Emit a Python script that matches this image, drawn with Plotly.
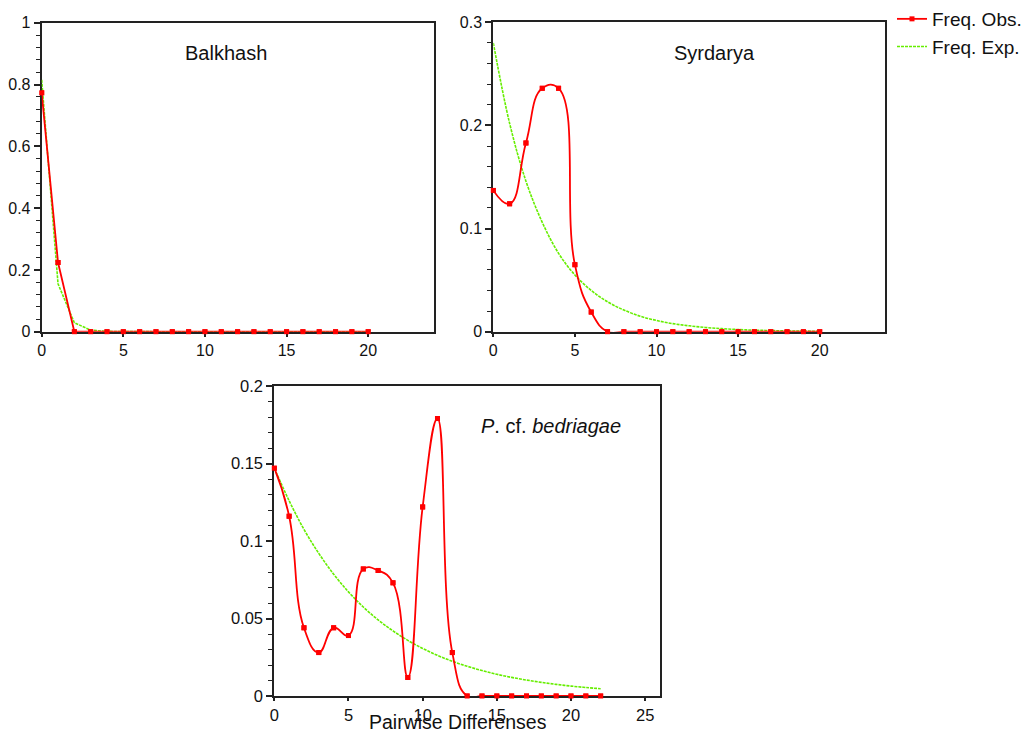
import plotly.graph_objects as go

# page body has an 8px margin; the figure is sized to fit the window
OFF = 8
W, H = 1029 - 2 * OFF, 742 - 2 * OFF

# ---------------- data ----------------
x_top = list(range(0, 21))
x_bot = list(range(0, 23))

balkhash_obs = [0.773, 0.224, 0.0] + [0.0] * 18
balkhash_exp = [0.815, 0.155, 0.029, 0.005, 0.001] + [0.0] * 16

syrdarya_obs = [0.137, 0.124, 0.183, 0.236, 0.236, 0.065, 0.019] + [0.0] * 14
syrdarya_exp = [0.280, 0.202, 0.146, 0.106, 0.076, 0.055, 0.040, 0.029, 0.021,
                0.015, 0.0109, 0.0078, 0.0057, 0.0041, 0.0030, 0.0021, 0.0015,
                0.0011, 0.0008, 0.0006, 0.0004]

bedriagae_obs = [0.147, 0.116, 0.044, 0.028, 0.044, 0.039, 0.082, 0.081, 0.073,
                 0.012, 0.122, 0.179, 0.028] + [0.0] * 10
bedriagae_exp = [0.147, 0.126, 0.1075, 0.092, 0.0786, 0.0672, 0.0574, 0.0491,
                 0.042, 0.0359, 0.0307, 0.0262, 0.0224, 0.0192, 0.0164, 0.014,
                 0.012, 0.0103, 0.0088, 0.0075, 0.0064, 0.0055, 0.0047]

panel_titles = ["Balkhash", "Syrdarya", "<i>P</i>. cf. <i>bedriagae</i>"]
legend_names = ["Freq. Obs.", "Freq. Exp."]
xlabel = "Pairwise Differenses"

# ---------------- style ----------------
RED = "#ff0000"
GREEN = "#66ee00"
AXC = "#222222"
FONT = "Arial, Liberation Sans, sans-serif"

fig = go.Figure()

panels = [
    dict(x=x_top, obs=balkhash_obs, exp=balkhash_exp, shape="linear", xa="x", ya="y"),
    dict(x=x_top, obs=syrdarya_obs, exp=syrdarya_exp, shape="spline", xa="x2", ya="y2"),
    dict(x=x_bot, obs=bedriagae_obs, exp=bedriagae_exp, shape="spline", xa="x3", ya="y3"),
]

for i, p in enumerate(panels):
    first = i == 0
    fig.add_trace(go.Scatter(
        x=p["x"], y=p["exp"], mode="lines", name=legend_names[1],
        line=dict(color=GREEN, width=1.6, dash="3px,1px", shape=p["shape"], smoothing=1.0),
        xaxis=p["xa"], yaxis=p["ya"], showlegend=first, legendrank=2,
    ))
    fig.add_trace(go.Scatter(
        x=p["x"], y=p["obs"], mode="lines+markers", name=legend_names[0],
        line=dict(color=RED, width=1.8, shape=p["shape"], smoothing=1.3),
        marker=dict(symbol="square", size=5, color=RED),
        xaxis=p["xa"], yaxis=p["ya"], showlegend=first, legendrank=1,
        cliponaxis=True,
    ))
    fig.add_trace(go.Scatter(
        x=p["x"], y=p["obs"], mode="markers",
        marker=dict(symbol="square", size=5, color=RED),
        xaxis=p["xa"], yaxis=p["ya"], showlegend=False, cliponaxis=False,
        hoverinfo="skip",
    ))


def dom_x(a, b):
    return [(a - OFF) / W, (b - OFF) / W]


def dom_y(a, b):
    return [1 - (b - OFF) / H, 1 - (a - OFF) / H]


def px(x, y):
    return (x - OFF) / W, 1 - (y - OFF) / H


def xaxis(dom, rng, anchor, fs):
    return dict(domain=dom, range=rng, anchor=anchor, dtick=5, tick0=0,
                ticks="outside", ticklen=3, tickwidth=1.5, tickcolor=AXC,
                showline=True, linecolor=AXC, linewidth=2, mirror=True,
                showgrid=False, zeroline=False, layer="below traces",
                tickfont=dict(family=FONT, size=fs, color="#111"), fixedrange=True)


def yaxis(dom, rng, anchor, dt, mdt, fs):
    return dict(domain=dom, range=rng, anchor=anchor, dtick=dt, tick0=0,
                ticks="outside", ticklen=6, tickwidth=1.5, tickcolor=AXC,
                minor=dict(dtick=mdt, tick0=0, ticks="outside", ticklen=4,
                           tickwidth=1.2, tickcolor=AXC),
                showline=True, linecolor=AXC, linewidth=2, mirror=True,
                showgrid=False, zeroline=False, layer="below traces",
                tickfont=dict(family=FONT, size=fs, color="#111"), fixedrange=True)


lx, ly = px(892, 0)
fig.update_layout(
    width=W, height=H,
    margin=dict(l=0, r=0, t=0, b=0, autoexpand=False),
    paper_bgcolor="white", plot_bgcolor="white",
    xaxis=xaxis(dom_x(41.7, 433.5), [0, 24], "y", 16),
    yaxis=yaxis(dom_y(22.7, 331.7), [0, 1], "x", 0.2, 0.04, 16),
    xaxis2=xaxis(dom_x(493.3, 885), [0, 24], "y2", 16),
    yaxis2=yaxis(dom_y(22.3, 331.7), [0, 0.3], "x2", 0.1, 0.02, 16),
    xaxis3=xaxis(dom_x(274.3, 660), [0, 26], "y3", 16.5),
    yaxis3=yaxis(dom_y(386, 696), [0, 0.2], "x3", 0.05, 0.01, 16.5),
    showlegend=True,
    legend=dict(x=lx, y=ly, xanchor="left", yanchor="top",
                font=dict(family=FONT, size=19, color="#111"),
                bgcolor="rgba(0,0,0,0)", tracegroupgap=0, traceorder="normal"),
)

# panel titles
title_pos = [(226, 53), (714.5, 53), (550.5, 426)]
for t, (tx, ty) in zip(panel_titles, title_pos):
    ax_, ay_ = px(tx, ty)
    fig.add_annotation(x=ax_, y=ay_, xref="paper", yref="paper",
                       text=t, showarrow=False, xanchor="center", yanchor="middle",
                       font=dict(family=FONT, size=20, color="#111"))

tx_, _ = px(458, 0)
fig.add_annotation(x=tx_, y=0, xref="paper", yref="paper",
                   text=xlabel, showarrow=False, xanchor="center", yanchor="bottom",
                   height=23, valign="middle", borderpad=0,
                   font=dict(family=FONT, size=19.5, color="#111"))

fig.write_html("out.html")
